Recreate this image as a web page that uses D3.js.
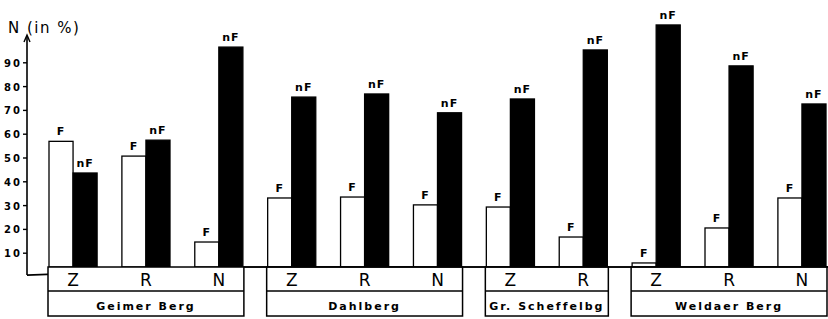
<!DOCTYPE html>
<html>
<head>
<meta charset="utf-8">
<script src="https://cdn.jsdelivr.net/npm/d3@7"></script>
<style>
  body { margin: 0; background: #fff; }
  svg { display: block; font-family: "DejaVu Sans", sans-serif; }
</style>
</head>
<body>
<svg id="chart" width="828" height="319"></svg>
<script>
  // data
  const groups = ["Geimer Berg", "Dahlberg", "Gr. Scheffelbg", "Weldaer Berg"];
  const sites = ["Z", "R", "N", "Z", "R", "N", "Z", "R", "Z", "R", "N"];
  const siteGroup = [0, 0, 0, 1, 1, 1, 2, 2, 3, 3, 3];
  const valuesF = [57, 50.8, 14.7, 33.2, 33.6, 30.3, 29.4, 16.8, 5.9, 20.6, 33.2];
  const valuesNF = [43.7, 57.5, 96.6, 75.6, 76.9, 69, 74.8, 95.4, 105.9, 88.7, 72.7];
  const series = ["F", "nF"];
  const yTicks = [10, 20, 30, 40, 50, 60, 70, 80, 90];
  const axisFloor = 4.2; // the drawn baseline sits a little above zero in the original

  const svg = d3.select("#chart");
  const axisX = 27;

  const y = d3.scaleLinear().domain([0, 100]).range([277, 39]);
  const x = d3.scaleBand().domain(d3.range(sites.length)).range([49, 826])
    .paddingInner(0.34).paddingOuter(0);
  const xs = d3.scaleBand().domain(series).range([0, x.bandwidth()]);

  const baseY = y(axisFloor);
  const midY = baseY + 24;
  const botY = baseY + 49;

  // y axis with arrow
  svg.append("line")
    .attr("x1", axisX).attr("x2", axisX)
    .attr("y1", y(0.8)).attr("y2", 36)
    .attr("stroke", "#000").attr("stroke-width", 1.6);
  svg.append("path")
    .attr("d", `M${axisX - 3},${42} L${axisX},${35} L${axisX + 3},${42}`)
    .attr("fill", "none").attr("stroke", "#000").attr("stroke-width", 1.4);

  const ticks = svg.append("g");
  ticks.selectAll("line").data(yTicks).join("line")
    .attr("x1", axisX - 4).attr("x2", axisX)
    .attr("y1", d => y(d)).attr("y2", d => y(d))
    .attr("stroke", "#000").attr("stroke-width", 1.4);
  ticks.selectAll("text").data(yTicks).join("text")
    .attr("x", axisX - 5).attr("y", d => y(d) + 4)
    .attr("text-anchor", "end")
    .attr("font-size", 10).attr("font-weight", "bold")
    .attr("letter-spacing", 2)
    .text(d => d);

  svg.append("text")
    .attr("x", 8).attr("y", 33)
    .attr("font-size", 15)
    .attr("letter-spacing", 1.5)
    .text("N (in %)");

  // baseline (slanted at the left in the original)
  const firstEnd = x(2) + x.bandwidth() + 1;
  svg.append("path")
    .attr("d", `M${axisX},${y(0.8)} L${firstEnd},${baseY} L828,${baseY}`)
    .attr("fill", "none").attr("stroke", "#000").attr("stroke-width", 1.6);

  // bars
  const bars = svg.append("g");
  sites.forEach((s, i) => {
    const vals = [valuesF[i], valuesNF[i]];
    series.forEach((k, j) => {
      const x0 = x(i) + xs(k);
      bars.append("rect")
        .attr("x", x0).attr("y", y(vals[j]))
        .attr("width", xs.bandwidth())
        .attr("height", baseY - y(vals[j]))
        .attr("fill", k === "F" ? "#fff" : "#000")
        .attr("stroke", "#000").attr("stroke-width", 1.3);
      bars.append("text")
        .attr("x", x0 + xs.bandwidth() / 2)
        .attr("y", y(vals[j]) - 6)
        .attr("text-anchor", "middle")
        .attr("font-size", 11).attr("font-weight", "bold")
        .attr("letter-spacing", 1)
        .text(k);
    });
  });

  // category boxes
  const boxes = svg.append("g");
  groups.forEach((g, gi) => {
    const idx = d3.range(sites.length).filter(i => siteGroup[i] === gi);
    const bx0 = x(idx[0]) - 1;
    const bx1 = Math.min(x(idx[idx.length - 1]) + x.bandwidth() + 1, 827);
    boxes.append("rect")
      .attr("x", bx0).attr("y", baseY)
      .attr("width", bx1 - bx0).attr("height", botY - baseY)
      .attr("fill", "#fff").attr("stroke", "#000").attr("stroke-width", 1.5);
    boxes.append("line")
      .attr("x1", bx0).attr("x2", bx1)
      .attr("y1", midY).attr("y2", midY)
      .attr("stroke", "#000").attr("stroke-width", 1.5);
    boxes.append("text")
      .attr("x", (bx0 + bx1) / 2).attr("y", botY - 6)
      .attr("text-anchor", "middle")
      .attr("font-size", 11).attr("font-weight", "bold")
      .attr("letter-spacing", 2)
      .text(g);
    idx.forEach(i => {
      boxes.append("text")
        .attr("x", x(i) + x.bandwidth() / 2).attr("y", midY - 5)
        .attr("text-anchor", "middle")
        .attr("font-size", 17)
        .text(sites[i]);
    });
  });
  // redraw the baseline over the box tops
  svg.append("line")
    .attr("x1", firstEnd).attr("x2", 828)
    .attr("y1", baseY).attr("y2", baseY)
    .attr("stroke", "#000").attr("stroke-width", 1.6);
</script>
</body>
</html>
